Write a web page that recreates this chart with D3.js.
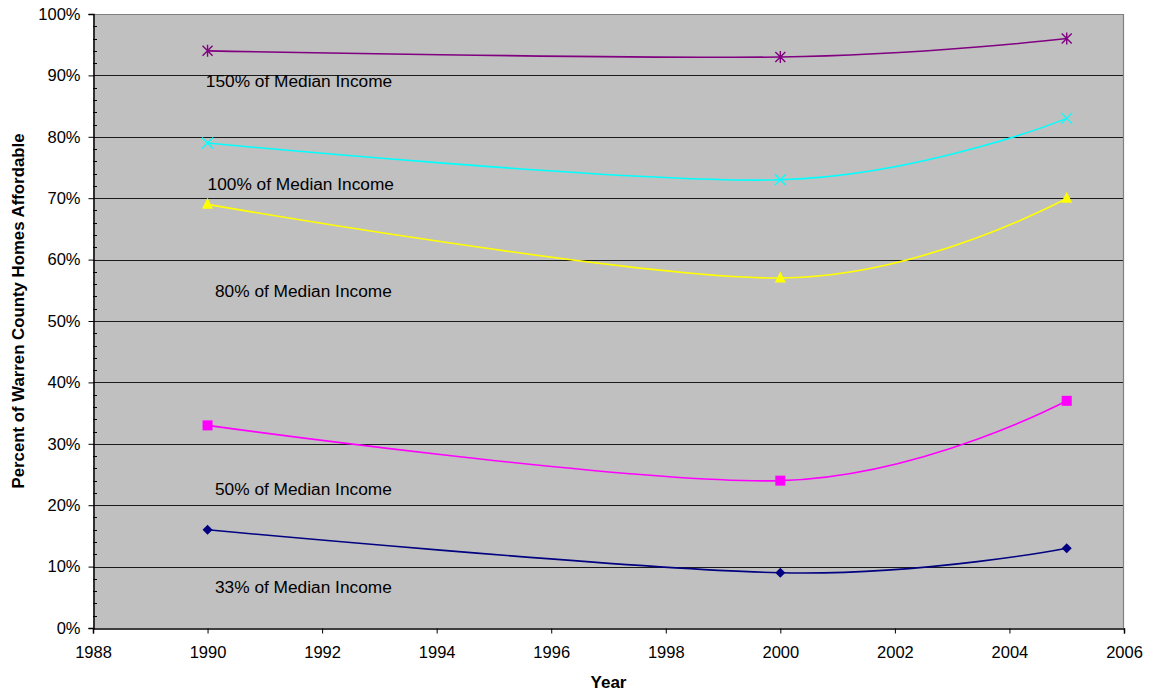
<!DOCTYPE html>
<html>
<head>
<meta charset="utf-8">
<script src="https://cdn.jsdelivr.net/npm/d3@7"></script>
<style>
  html, body { margin: 0; padding: 0; background: #fff; }
  svg text { font-family: "Liberation Sans", Arial, sans-serif; fill: #000; }
</style>
</head>
<body>
<svg id="chart" width="1151" height="692"></svg>
<script>
// Years of observation
const years = [1990, 2000, 2005];

// Share of Warren County homes affordable at each income level (%)
const income150 = [94, 93, 96];
const income100 = [79, 73, 83];
const income80  = [69, 57, 70];
const income50  = [33, 24, 37];
const income33  = [16, 9, 13];

const seriesNames = ["150% of Median Income", "100% of Median Income", "80% of Median Income",
                     "50% of Median Income", "33% of Median Income"];

// Axis ticks
const xTicks = [1988, 1990, 1992, 1994, 1996, 1998, 2000, 2002, 2004, 2006];
const yTicks = [0, 10, 20, 30, 40, 50, 60, 70, 80, 90, 100];

const series = [
  { name: seriesNames[0], values: income150, color: "#800080", marker: "star",     label: [1989.97, 89.1] },
  { name: seriesNames[1], values: income100, color: "#00FFFF", marker: "cross",    label: [1990.0, 72.3] },
  { name: seriesNames[2], values: income80,  color: "#FFFF00", marker: "triangle", label: [1990.13, 54.9] },
  { name: seriesNames[3], values: income50,  color: "#FF00FF", marker: "square",   label: [1990.13, 22.6] },
  { name: seriesNames[4], values: income33,  color: "#000080", marker: "diamond",  label: [1990.13, 6.7] }
];

const svg = d3.select("#chart");
const plot = { left: 93, right: 1124, top: 14, bottom: 628 };

const x = d3.scaleLinear().domain([1988, 2006]).range([plot.left, plot.right]);
const y = d3.scaleLinear().domain([0, 100]).range([plot.bottom, plot.top]);

// Plot background
svg.append("rect")
  .attr("x", plot.left).attr("y", plot.top)
  .attr("width", plot.right - plot.left).attr("height", plot.bottom - plot.top)
  .attr("fill", "#C0C0C0");

// Horizontal gridlines
svg.append("g").selectAll("line")
  .data(yTicks.filter(d => d > 0 && d < 100))
  .join("line")
  .attr("x1", plot.left).attr("x2", plot.right)
  .attr("y1", d => Math.round(y(d)) + 0.5).attr("y2", d => Math.round(y(d)) + 0.5)
  .attr("stroke", "#1a1a1a").attr("stroke-width", 1);

// Top and right frame
svg.append("path")
  .attr("d", `M${plot.left},${plot.top + 0.5}H${plot.right - 0.5}V${plot.bottom}`)
  .attr("fill", "none").attr("stroke", "#808080").attr("stroke-width", 1.2);

// Y axis
const yAxis = svg.append("g")
  .attr("transform", `translate(${plot.left + 0.5},0)`)
  .call(d3.axisLeft(y).tickValues(yTicks).tickFormat(d => d + "%").tickSize(5).tickPadding(8));
yAxis.select(".domain").attr("stroke", "#000").attr("stroke-width", 1.5);
yAxis.selectAll(".tick line").attr("stroke", "#000");
yAxis.selectAll("text").attr("font-size", 16.5).attr("font-family", "Liberation Sans, Arial, sans-serif");

// Minor ticks on the inside of the y axis
svg.append("g").selectAll("line")
  .data(d3.range(0, 101, 2).filter(d => d % 10 !== 0))
  .join("line")
  .attr("x1", plot.left).attr("x2", plot.left + 4)
  .attr("y1", d => Math.round(y(d)) + 0.5).attr("y2", d => Math.round(y(d)) + 0.5)
  .attr("stroke", "#000");

// X axis
const xAxis = svg.append("g")
  .attr("transform", `translate(0,${plot.bottom + 0.5})`)
  .call(d3.axisBottom(x).tickValues(xTicks).tickFormat(d3.format("d")).tickSize(5).tickPadding(13));
xAxis.select(".domain").attr("stroke", "#000").attr("stroke-width", 1.5);
xAxis.selectAll(".tick line").attr("stroke", "#000");
xAxis.selectAll("text").attr("font-size", 16.5).attr("font-family", "Liberation Sans, Arial, sans-serif");

// Smoothed series lines
const line = d3.line()
  .x((d, i) => x(years[i]))
  .y(d => y(d))
  .curve(d3.curveCardinal.tension(0));

const markerShapes = {
  star(g, c) {
    const r = 5;
    g.append("path")
      .attr("d", `M${-r},${-r}L${r},${r}M${-r},${r}L${r},${-r}M0,${-r - 1}V${r + 1}`)
      .attr("stroke", c).attr("stroke-width", 1.4).attr("fill", "none");
  },
  cross(g, c) {
    const r = 5.5;
    g.append("path")
      .attr("d", `M${-r},${-r}L${r},${r}M${-r},${r}L${r},${-r}`)
      .attr("stroke", c).attr("stroke-width", 1.4).attr("fill", "none");
  },
  triangle(g, c) {
    g.append("path").attr("d", "M0,-6.5L5.5,4.5L-5.5,4.5Z").attr("fill", c);
  },
  square(g, c) {
    g.append("rect").attr("x", -5).attr("y", -5).attr("width", 10).attr("height", 10).attr("fill", c);
  },
  diamond(g, c) {
    g.append("path").attr("d", "M0,-5L5,0L0,5L-5,0Z").attr("fill", c);
  }
};

series.forEach(s => {
  const g = svg.append("g").attr("class", "series");
  g.append("path")
    .attr("d", line(s.values))
    .attr("fill", "none")
    .attr("stroke", s.color)
    .attr("stroke-width", 1.6);

  s.values.forEach((v, i) => {
    const m = g.append("g").attr("transform", `translate(${x(years[i])},${y(v)})`);
    markerShapes[s.marker](m, s.color);
  });

  svg.append("text")
    .attr("x", x(s.label[0]))
    .attr("y", y(s.label[1]))
    .attr("dy", "0.35em")
    .attr("font-size", 17.3)
    .attr("fill", "#1a1a1a")
    .text(s.name);
});

// Axis titles
svg.append("text")
  .attr("x", (plot.left + plot.right) / 2)
  .attr("y", 682)
  .attr("dy", "0.35em")
  .attr("text-anchor", "middle")
  .attr("font-size", 17)
  .attr("font-weight", "bold")
  .text("Year");

svg.append("text")
  .attr("transform", `translate(18,${(plot.top + plot.bottom) / 2 - 10}) rotate(-90)`)
  .attr("dy", "0.35em")
  .attr("text-anchor", "middle")
  .attr("font-size", 16.8)
  .attr("font-weight", "bold")
  .text("Percent of Warren County Homes Affordable");
</script>
</body>
</html>
